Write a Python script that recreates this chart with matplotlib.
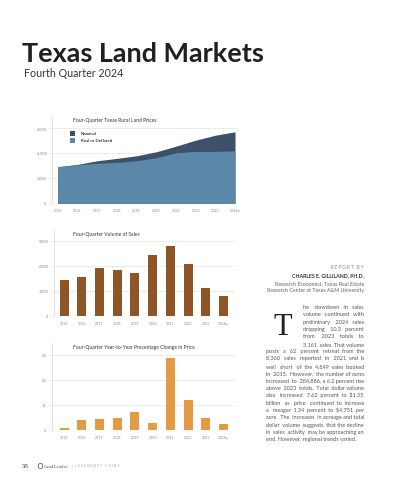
import matplotlib
matplotlib.use('Agg')
import matplotlib.pyplot as plt
from matplotlib.patches import Circle

years = ['2015', '2016', '2017', '2018', '2019', '2020', '2021', '2022', '2023', '2024p']
nominal = [2930, 3120, 3410, 3600, 3810, 4130, 4580, 5060, 5460, 5730]
real = [2930, 3090, 3200, 3280, 3410, 3650, 4050, 4160, 4160, 4210]
sales = [4320, 4720, 5720, 5520, 5120, 7320, 8440, 6200, 3360, 2440]
pct_change = [1.0, 4.0, 4.4, 5.1, 7.3, 2.9, 29.0, 12.2, 5.1, 2.5]

price_ticks = [0, 2000, 4000, 6000]
sales_ticks = [0, 3000, 6000, 9000]
pct_ticks = [0, 10, 20, 30]

body = [
    "he slowdown in sales",
    "volume continued with",
    "preliminary 2024 sales",
    "dropping 10.3 percent",
    "from 2023 totals to",
    "3,161 sales. That volume",
    "posts a 62 percent retreat from the",
    "8,360 sales reported in 2021 and is",
    "well short of the 4,849 sales booked",
    "in 2015. However, the number of acres",
    "increased to 284,886, a 6.2 percent rise",
    "above 2023 totals. Total dollar volume",
    "also increased 7.62 percent to \\$1.35",
    "billion as price continued to increase",
    "a meager 1.34 percent to \\$4,751 per",
    "acre. The increases in acreage and total",
    "dollar volume suggests that the decline",
    "in sales activity may be approaching an",
    "end. However, regional trends varied.",
]

W, H = 397, 480
fig = plt.figure(figsize=(3.97, 4.8), dpi=100)
fig.patch.set_facecolor('white')
renderer = fig.canvas.get_renderer()
SANS = 'Lato'


def px(x, y):
    return x / W, 1 - y / H


def ax_at(left, top, right, bottom):
    return fig.add_axes([left / W, 1 - bottom / H, (right - left) / W, (bottom - top) / H])


def width_of(t):
    return t.get_window_extent(renderer).width


def fit(t, width):
    t.set_fontsize(t.get_fontsize() * width / width_of(t))
    return t


def style(ax, ticks, fmt):
    ax.set_yticks(ticks)
    ax.set_yticklabels([fmt(v) for v in ticks])
    ax.set_xticks(range(len(years)))
    ax.set_xticklabels(years)
    for s in ['top', 'right', 'bottom']:
        ax.spines[s].set_visible(False)
    ax.spines['left'].set_color('#dddddd')
    ax.spines['left'].set_linewidth(0.6)
    ax.grid(axis='y', color='#e8e8e8', linewidth=0.6)
    ax.set_axisbelow(True)
    ax.tick_params(axis='x', length=0, labelsize=2.6, colors='#888888', pad=4)
    ax.tick_params(axis='y', length=2, width=0.5, color='#dddddd', labelsize=2.8,
                   labelcolor='#888888', pad=2)
    for lab in ax.get_xticklabels() + ax.get_yticklabels():
        lab.set_family(SANS)


# title
t = fig.text(*px(22, 62), 'Texas Land Markets', family=SANS, weight='bold',
             fontsize=20, color='#231f20', va='baseline')
fit(t, 242)
t = fig.text(*px(24, 77), 'Fourth Quarter 2024', family=SANS, fontsize=7,
             color='#333333', va='baseline')
fit(t, 99)

# chart 1: land prices
ax1 = ax_at(52, 116, 236, 203.3)
x = range(len(years))
ax1.fill_between(x, 0, nominal, color='#3d5069', linewidth=0, label='Nominal')
ax1.fill_between(x, 0, real, color='#5b88a9', linewidth=0, label='Real or Deflated')
ax1.set_xlim(-0.29, 9.05)
ax1.set_ylim(0, 7000)
style(ax1, price_ticks, lambda v: f'{v:,}')
ax1.legend(loc='upper left', bbox_to_anchor=(0.1, 0.83), frameon=False,
           handlelength=1.1, handleheight=1.4, borderpad=0,
           borderaxespad=0, labelspacing=0.5, handletextpad=1.2,
           prop={'family': SANS, 'size': 3.2})
fig.text(*px(73, 120.7), 'Four-Quarter Texas Rural Land Prices', family=SANS,
         fontsize=3.6, color='#333333', va='center')

# chart 2: volume of sales
ax2 = ax_at(54, 229, 235, 316)
ax2.bar(x, sales, width=0.51, color='#8e5527')
ax2.set_xlim(-0.57, 9.65)
ax2.set_ylim(0, 10440)
style(ax2, sales_ticks, lambda v: f'{v:,}')
fig.text(*px(73, 234), 'Four-Quarter Volume of Sales', family=SANS,
         fontsize=3.6, color='#333333', va='center')

# chart 3: percentage change
ax3 = ax_at(52, 343, 235, 430.3)
ax3.bar(x, pct_change, width=0.51, color='#e29a45')
ax3.set_xlim(-0.68, 9.65)
ax3.set_ylim(0, 35)
style(ax3, pct_ticks, lambda v: f'{v}')
fig.text(*px(73, 347.5), 'Four-Quarter Year-to-Year Precentage Change in Price',
         family=SANS, fontsize=3.6, color='#333333', va='center')

# byline
RX = 364
t = fig.text(*px(RX, 292), 'Research Center at Texas A&M University', family=SANS,
             fontsize=4.4, color='#666666', ha='right', va='baseline')
fit(t, 98)
fs = t.get_fontsize()
fig.text(*px(RX, 269.3), 'R E P O R T   B Y', family=SANS, fontsize=fs * 0.85,
         color='#888888', ha='right', va='baseline')
fig.text(*px(RX, 277.3), 'CHARLES E. GILLILAND, PH.D.', family=SANS, weight='bold',
         fontsize=fs, color='#333333', ha='right', va='baseline')
fig.text(*px(RX, 285), 'Research Economist, Texas Real Estate', family=SANS,
         fontsize=fs, color='#666666', ha='right', va='baseline')

# drop cap
fig.text(*px(274, 335), 'T', family='Liberation Serif', fontsize=22,
         color='#231f20', va='baseline')

# body font size: longest line nearly fills the column
t = fig.text(0, 0, 'increased to 284,886, a 6.2 percent rise', family=SANS, fontsize=4.4)
fit(t, 95)
fsb = t.get_fontsize()
t.set_text('a a')
w2 = width_of(t)
t.set_text('aa')
space_w = w2 - width_of(t)
t.remove()

# body text, justified by padding the gaps with extra spaces
for i, line in enumerate(body):
    y = 309 + i * 7.35
    x0 = 303 if i < 6 else 266
    words = line.split()
    t = fig.text(*px(x0, y), line, family=SANS, fontsize=fsb, color='#555555',
                 va='baseline')
    if i < len(body) - 1:
        extra = int(round((RX - x0 - width_of(t)) / space_w))
        gaps = [1] * (len(words) - 1)
        for k in range(max(extra, 0)):
            gaps[k % len(gaps)] += 1
        s = words[0]
        for g, w in zip(gaps, words[1:]):
            s += ' ' * g + w
        t.set_text(s)

# footer
fig.text(*px(22, 468), '58', family='Liberation Serif', fontsize=5,
         color='#555555', va='baseline')
fig.patches.append(Circle(px(40.5, 466), 2.2 / W, transform=fig.transFigure,
                          fill=False, edgecolor='#666666', linewidth=0.6))
fig.text(*px(44, 468), 'LandLeader', family='Liberation Serif', fontsize=3.6,
         color='#555555', va='baseline')
fig.text(*px(72, 467.5), '|   L E G E N D A R Y   L I V I N G', family=SANS,
         fontsize=2.4, color='#aaaaaa', va='baseline')

fig.savefig('out.png', dpi=100)
